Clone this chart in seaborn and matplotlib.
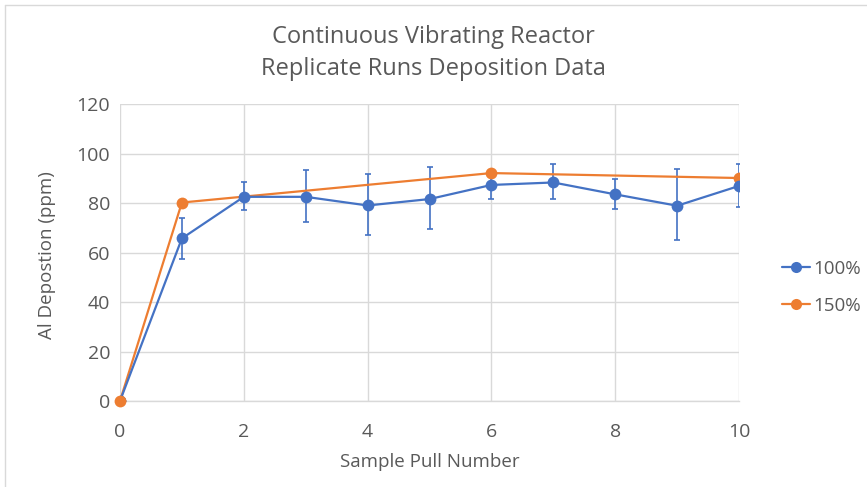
import numpy as np
import pandas as pd
import matplotlib.pyplot as plt
import seaborn as sns
from matplotlib.lines import Line2D

# blue series (100%) with error bar ends
x_100 = [0, 1, 2, 3, 4, 5, 6, 7, 8, 9, 10]
y_100 = [0, 65.7, 82.5, 82.5, 79.0, 81.6, 87.3, 88.3, 83.5, 78.9, 86.9]
hi_100 = [0, 73.8, 88.6, 93.2, 91.9, 94.5, 92.9, 95.6, 89.8, 93.6, 95.9]
lo_100 = [0, 57.2, 77.0, 72.3, 66.9, 69.5, 81.7, 81.5, 77.6, 64.9, 78.4]

# orange series (150%)
x_150 = [0, 1, 6, 10]
y_150 = [0, 80.2, 92.1, 90.1]

BLUE = "#4472C4"
ORANGE = "#ED7D31"
GREY = "#595959"

sns.set_theme(style="whitegrid")
plt.rcParams["font.family"] = ["Open Sans", "DejaVu Sans"]

df_100 = pd.DataFrame({"x": x_100, "y": y_100})
df_150 = pd.DataFrame({"x": x_150, "y": y_150})

fig = plt.figure(figsize=(8.67, 4.87), dpi=100)
ax = fig.add_axes([0.1384, 0.1766, 0.714, 0.6098])

yerr = [np.array(y_100) - np.array(lo_100), np.array(hi_100) - np.array(y_100)]
ax.errorbar(x_100, y_100, yerr=yerr, fmt="none", ecolor=BLUE, elinewidth=1.2,
            capsize=2.5, capthick=1.2, zorder=2)
sns.lineplot(data=df_150, x="x", y="y", color=ORANGE, marker="o", markersize=8.5,
             markeredgewidth=0, linewidth=1.6, ax=ax, zorder=3)
sns.lineplot(data=df_100, x="x", y="y", color=BLUE, marker="o", markersize=8.5,
             markeredgewidth=0, linewidth=1.6, ax=ax, zorder=4)
# orange start point sits on top
ax.plot([x_150[0]], [y_150[0]], "o", color=ORANGE, markersize=8.5, markeredgewidth=0,
        zorder=5, clip_on=False)

ax.set_xlim(0, 10)
ax.set_ylim(0, 120)
ax.set_xticks(range(0, 11, 2))
ax.set_yticks(range(0, 121, 20))
ax.grid(True, color="#D9D9D9", linewidth=1)
for s in ["left", "right", "top"]:
    ax.spines[s].set_visible(False)
ax.spines["bottom"].set_color("#D9D9D9")
ax.spines["bottom"].set_linewidth(1)
ax.tick_params(axis="both", colors=GREY, labelsize=14, length=0)
ax.tick_params(axis="x", pad=16)
ax.tick_params(axis="y", pad=7)
for lbl in ax.get_xticklabels() + ax.get_yticklabels():
    lbl.set_color(GREY)

ax.set_xlabel("Sample Pull Number", fontsize=13.5, color=GREY)
ax.set_ylabel("Al Depostion (ppm)", fontsize=13.5, color=GREY)
ax.xaxis.set_label_coords(0.5, -0.175)
ax.yaxis.set_label_coords(-0.103, 0.49)

fig.suptitle("Continuous Vibrating Reactor\nReplicate Runs Deposition Data",
             fontsize=17, color=GREY, y=0.892, va="center", linespacing=1.45)

handles = [
    Line2D([], [], color=BLUE, marker="o", markersize=8, markeredgewidth=0, linewidth=1.6),
    Line2D([], [], color=ORANGE, marker="o", markersize=8, markeredgewidth=0, linewidth=1.6),
]
fig.legend(handles, ["100%", "150%"], loc="center left", bbox_to_anchor=(0.902, 0.41),
           frameon=False, fontsize=13.5, labelcolor=GREY, handlelength=1.5,
           handletextpad=0.15, labelspacing=1.0, borderpad=0, borderaxespad=0)

# chart border like the source
fig.add_artist(Line2D([0.006, 0.006], [0.0, 0.99], color="#D9D9D9", linewidth=1,
                      transform=fig.transFigure))
fig.add_artist(Line2D([0.006, 1.0], [0.99, 0.99], color="#D9D9D9", linewidth=1,
                      transform=fig.transFigure))

fig.savefig("out.png", dpi=100)
